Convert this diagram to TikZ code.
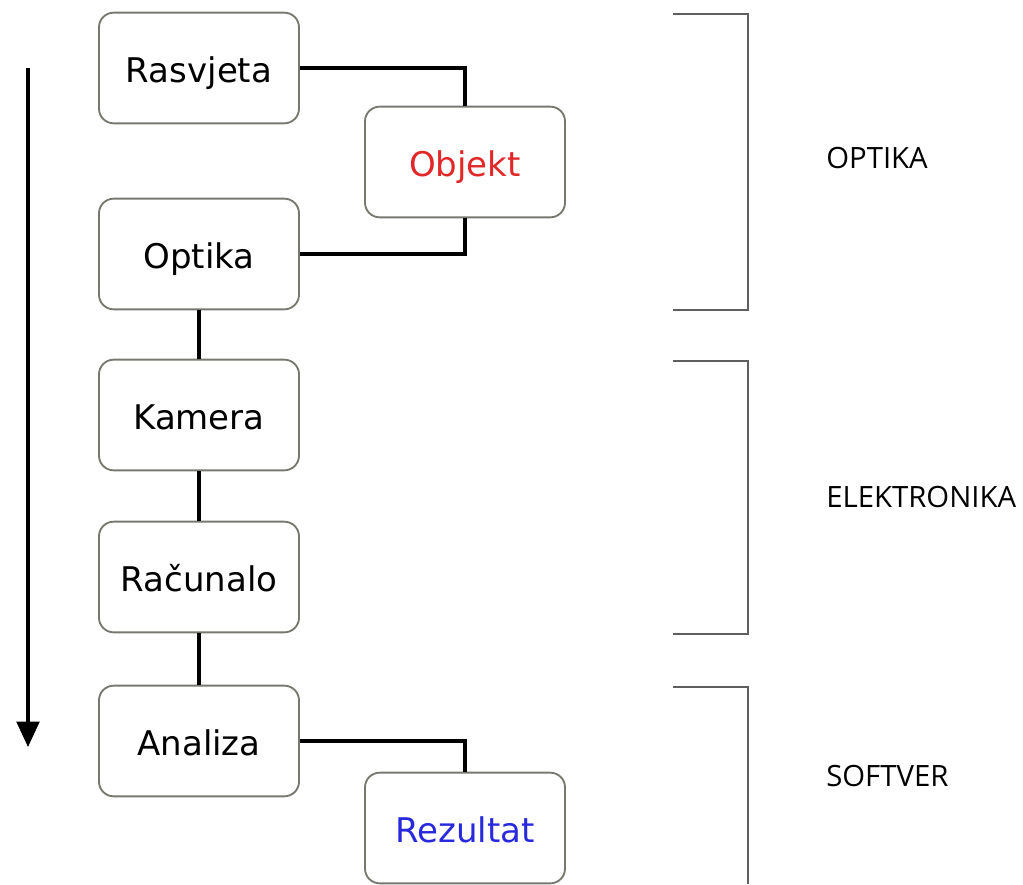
\documentclass[tikz,border=0pt]{standalone}
\usepackage{fontspec}
\setmainfont{DejaVu Sans}
\newfontfamily\labelfont{Open Sans}
\usetikzlibrary{arrows.meta}
\definecolor{boxgray}{RGB}{120,120,112}
\definecolor{brgray}{RGB}{95,95,95}
\definecolor{objred}{RGB}{225,40,40}
\definecolor{resblue}{RGB}{40,40,220}
\tikzset{
  box/.style={draw=boxgray, line width=1.4pt, rounded corners=11pt, fill=white,
    minimum width=150pt, minimum height=83pt, inner sep=0pt,
    text height=22pt, text depth=0pt,
    font=\fontsize{25.5}{30}\selectfont},
  conn/.style={draw=black, line width=2.4pt},
  brack/.style={draw=brgray, line width=1.7pt},
  grouplabel/.style={anchor=west, inner sep=0pt, font=\labelfont\fontsize{22}{26}\selectfont}
}
\begin{document}
\begin{tikzpicture}[x=0.75pt,y=-0.75pt]
\path[use as bounding box] (0,0) rectangle (1023,884);

\node[box] (ras) at (199,68) {Rasvjeta};
\node[box, text=objred] (obj) at (465,162) {Objekt};
\node[box] (opt) at (199,254) {Optika};
\node[box] (kam) at (199,415) {Kamera};
\node[box] (rac) at (199,577) {Računalo};
\node[box] (ana) at (199,741) {Analiza};
\node[box, text=resblue] (rez) at (465,828) {Rezultat};

\path[conn] (ras.east) -| (obj.north);
\path[conn] (opt.east) -| (obj.south);
\path[conn] (opt.south) -- (kam.north);
\path[conn] (kam.south) -- (rac.north);
\path[conn] (rac.south) -- (ana.north);
\path[conn] (ana.east) -| (rez.north);

\coordinate (as) at (28,68);
\coordinate (ae) at (28,747);
\draw[line width=2.3pt, -{Triangle[length=19pt,width=17pt]}] (as) -- (ae);

\coordinate (b1a) at (673,14);
\coordinate (b1b) at (748,14);
\coordinate (b1c) at (748,310);
\coordinate (b1d) at (673,310);
\draw[brack] (b1a) -- (b1b) -- (b1c) -- (b1d);
\coordinate (b2a) at (673,361);
\coordinate (b2b) at (748,361);
\coordinate (b2c) at (748,634);
\coordinate (b2d) at (673,634);
\draw[brack] (b2a) -- (b2b) -- (b2c) -- (b2d);
\coordinate (b3a) at (673,687);
\coordinate (b3b) at (748,687);
\coordinate (b3c) at (748,884);
\draw[brack] (b3a) -- (b3b) -- (b3c);

\node[grouplabel] (l1) at (826,158) {OPTIKA};
\node[grouplabel] (l2) at (826,497) {ELEKTRONIKA};
\node[grouplabel] (l3) at (826,776) {SOFTVER};
\end{tikzpicture}
\end{document}
